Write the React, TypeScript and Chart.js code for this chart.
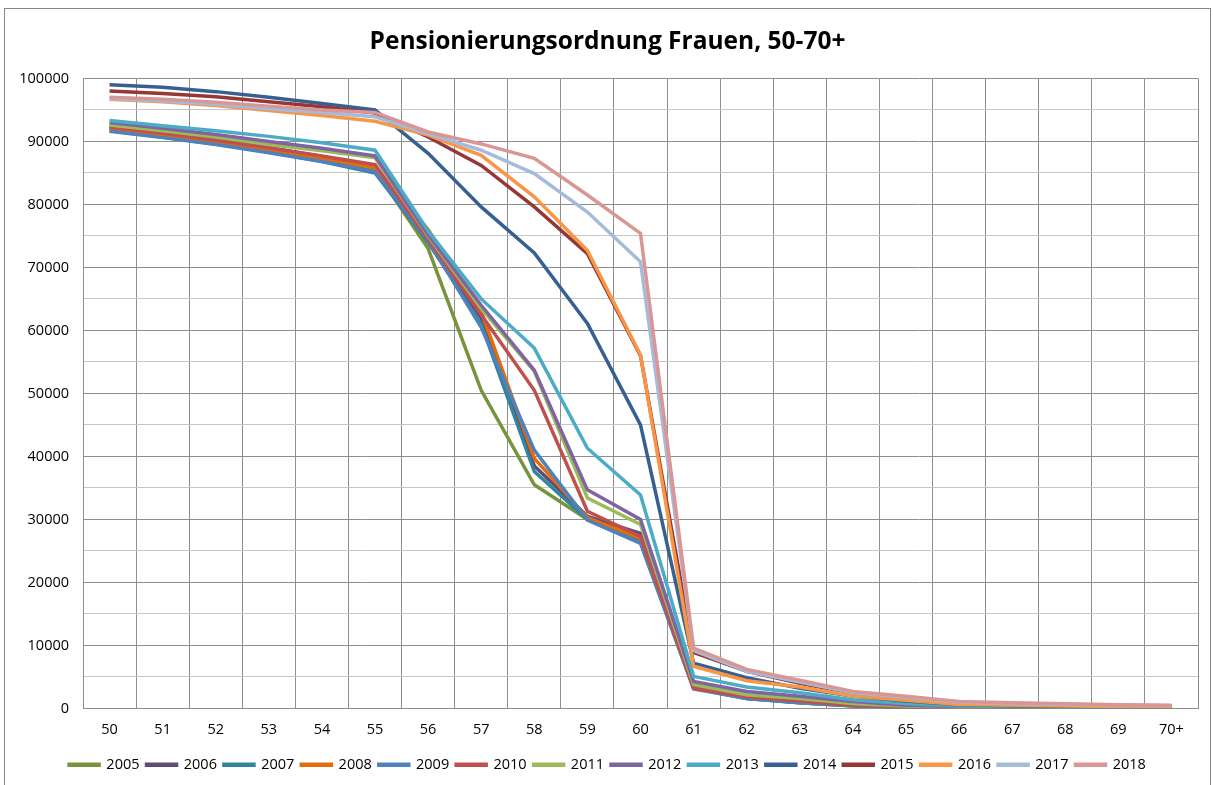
import React, { useEffect, useRef } from "react";
import { Chart, registerables } from "chart.js";

Chart.register(...registerables);

const TITLE = "Pensionierungsordnung Frauen, 50-70+";

const AGES = ["50","51","52","53","54","55","56","57","58","59","60","61","62","63","64","65","66","67","68","69","70+"];

const YEARS = ["2005","2006","2007","2008","2009","2010","2011","2012","2013","2014","2015","2016","2017","2018"];

const COLORS = ["#77933C","#604A7B","#31859C","#E46C0A","#4F81BD","#C0504D","#9BBB59","#8064A2","#4BACC6","#376092","#953735","#F79646","#A5BBDB","#D99694"];

const Y_TICK_VALUES = [0, 10000, 20000, 30000, 40000, 50000, 60000, 70000, 80000, 90000, 100000];

const V2005 = [92000,91000,89900,88600,87200,85500,73000,50500,35500,30000,26500,3300,1600,900,400,200,100,80,60,50,50];
const V2006 = [92400,91400,90300,89000,87600,86000,74000,62000,38500,30500,27800,3500,1800,1000,500,250,120,90,70,60,60];
const V2007 = [91700,90700,89600,88300,86800,85000,74000,61000,37600,30000,26800,3200,1600,900,450,220,110,80,60,50,50];
const V2008 = [92100,91100,90000,88700,87300,85800,76000,63000,39700,30300,27000,3400,1700,1000,500,250,120,90,70,60,60];
const V2009 = [91600,90600,89500,88200,86800,85200,74300,60500,41000,29900,26200,3100,1600,900,450,220,110,80,60,50,50];
const V2010 = [92300,91300,90200,89000,87700,86300,74500,62500,50500,31300,27300,3200,1850,1200,500,300,150,100,80,70,70];
const V2011 = [92600,91700,90700,89500,88500,87400,75000,63500,53500,33400,29200,3800,2200,1600,800,400,200,150,120,100,100];
const V2012 = [93000,92100,91100,90000,88900,87700,75200,64000,53700,34700,30000,4300,2700,1950,1100,500,300,220,180,150,150];
const V2013 = [93300,92500,91700,90800,89800,88600,75800,65000,57200,41300,33900,5100,3400,2500,1400,800,400,300,250,200,200];
const V2014 = [99000,98600,97900,97000,96000,95000,88100,79600,72300,61100,45000,7200,4900,3200,2000,1200,600,450,350,300,250];
const V2015 = [98000,97600,97100,96300,95500,94500,90700,86200,79600,72200,56000,8900,5900,4000,2400,1600,900,700,550,450,400];
const V2016 = [96700,96300,95700,94900,94100,93200,91000,87800,81200,72700,56100,6700,4400,3400,2000,1300,650,500,400,300,250];
const V2017 = [96800,96400,95900,95200,94600,93900,91200,88600,84900,78800,70900,9200,5900,4200,2500,1800,1000,800,650,550,450];
const V2018 = [97000,96700,96200,95600,95000,94600,91500,89600,87300,81500,75400,9600,6200,4500,2700,1950,1100,900,750,600,500];

const SERIES = [V2005,V2006,V2007,V2008,V2009,V2010,V2011,V2012,V2013,V2014,V2015,V2016,V2017,V2018];

const FONT = "'Open Sans', 'Liberation Sans', sans-serif";

export default function App() {
  const ref = useRef<HTMLCanvasElement | null>(null);

  useEffect(() => {
    if (!ref.current) return;
    const datasets = YEARS.map((y, i) => ({
      label: y,
      data: SERIES[i],
      borderColor: COLORS[i],
      backgroundColor: COLORS[i],
      borderWidth: 3.5,
      pointRadius: 0,
      tension: 0,
      fill: false,
      order: YEARS.length - i,
    }));
    const chart = new Chart(ref.current, {
      type: "line",
      data: { labels: AGES, datasets },
      options: {
        animation: false,
        responsive: false,
        maintainAspectRatio: false,
        layout: { padding: { left: 12, right: 12, top: 0, bottom: 3 } },
        plugins: {
          title: {
            display: true,
            text: TITLE,
            color: "#000",
            font: { family: FONT, size: 24.5, weight: "bold" },
            padding: { top: 18, bottom: 22 },
          },
          legend: {
            position: "bottom",
            labels: {
              color: "#000",
              font: { family: FONT, size: 14.5 },
              boxWidth: 30,
              boxHeight: 1,
              padding: 7,
              sort: (a: any, b: any) => a.datasetIndex - b.datasetIndex,
            },
          },
          tooltip: { enabled: false },
        },
        scales: {
          x: {
            offset: true,
            afterFit: (scale: any) => { scale.height = 42; },
            grid: {
              offset: true,
              color: "#8e8e8e",
              lineWidth: 1,
              drawTicks: false,
            },
            border: { color: "#8e8e8e" },
            ticks: {
              color: "#000",
              font: { family: FONT, size: 14.5 },
              padding: 13,
              maxRotation: 0,
              autoSkip: false,
            },
          },
          y: {
            min: 0,
            max: 100000,
            afterFit: (scale: any) => { scale.width = 66; },
            afterBuildTicks: (scale: any) => {
              const t: any[] = [];
              for (let v = 0; v <= 100000; v += 5000) t.push({ value: v });
              scale.ticks = t;
            },
            grid: {
              color: (ctx: any) => (ctx.tick && ctx.tick.value % 10000 === 0 ? "#8e8e8e" : "#c6c6c6"),
              lineWidth: 1,
              drawTicks: false,
            },
            border: { color: "#8e8e8e" },
            ticks: {
              color: "#000",
              font: { family: FONT, size: 14.5 },
              padding: 14,
              callback: (v: any) => (Y_TICK_VALUES.includes(Number(v)) ? String(v) : ""),
            },
          },
        },
      },
    });
    return () => chart.destroy();
  }, []);

  return (
    <div
      style={{
        position: "absolute",
        left: 4,
        top: 8,
        width: 1205,
        height: 790,
        border: "1px solid #868686",
        background: "#fff",
        boxSizing: "content-box",
      }}
    >
      <canvas ref={ref} width={1205} height={776} style={{ display: "block" }} />
    </div>
  );
}
